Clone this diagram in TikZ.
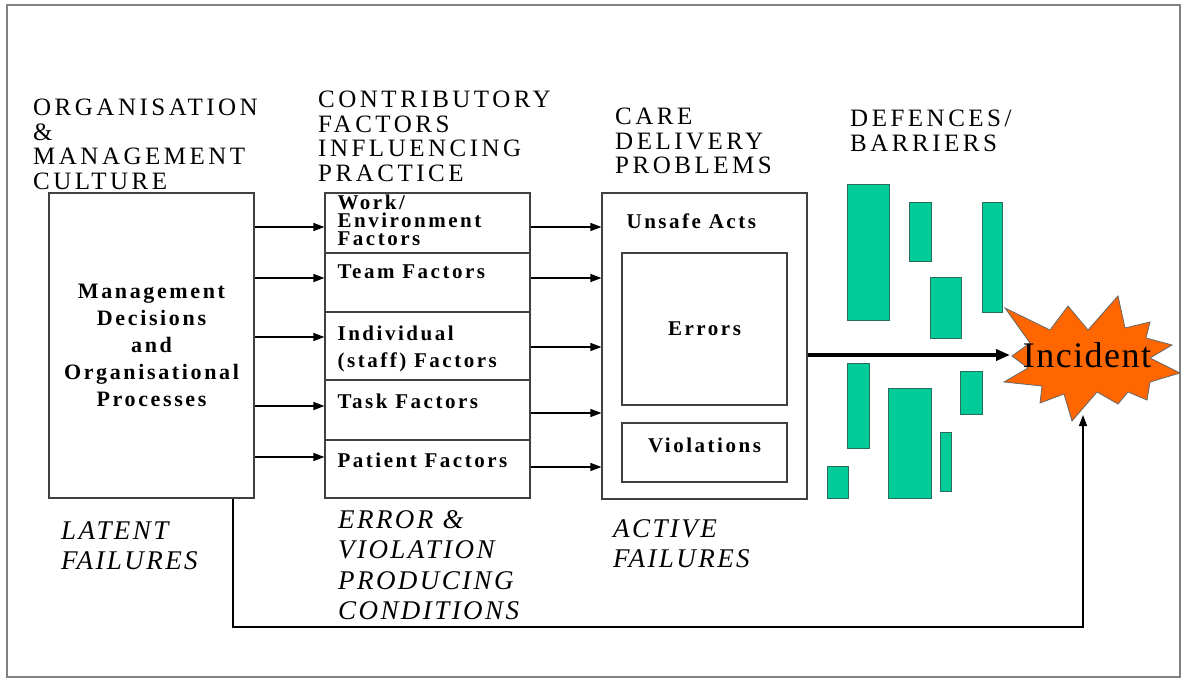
\documentclass[tikz,border=0pt]{standalone}
\usepackage{fontspec}
\setmainfont{Liberation Serif}
\newfontfamily\headfont[LetterSpace=14]{Liberation Serif}
\newfontfamily\labelfont[LetterSpace=12]{Liberation Serif}
\newfontfamily\notefont[LetterSpace=9]{Liberation Serif}
\newfontfamily\burstfont[LetterSpace=4]{Liberation Serif}
\usepackage{tikz}
\usetikzlibrary{arrows.meta, positioning}
\definecolor{barGreen}{RGB}{0,204,153}
\definecolor{barEdge}{RGB}{40,110,90}
\definecolor{burstOrange}{RGB}{255,102,0}
\definecolor{frameGrey}{RGB}{128,128,128}

\begin{document}
\begin{tikzpicture}[
    x=1pt, y=-1pt,
    heading/.style={anchor=north west, inner sep=0pt, align=left, font=\headfont\fontsize{25}{24.5}\selectfont},
    note/.style={anchor=north west, inner sep=0pt, align=left, font=\notefont\itshape\fontsize{27}{30.5}\selectfont},
    stagebox/.style={draw=black!75, line width=1.2pt, minimum width=205pt, inner sep=0pt},
    innerbox/.style={draw=black!75, line width=1.2pt, minimum width=165pt, inner sep=0pt, font=\labelfont\bfseries\fontsize{21}{27}\selectfont},
    factor/.style={inner sep=0pt, align=left, font=\labelfont\bfseries\fontsize{21}{27}\selectfont},
    bar/.style={fill=barGreen, draw=barEdge, line width=0.8pt},
    link/.style={line width=1.3pt, -{Triangle[length=11pt, width=8pt]}},
    bigarrow/.style={line width=3.5pt, -{Triangle[length=14pt, width=11pt]}}
]
    \useasboundingbox (0,0) rectangle (1181,679);
    \draw[frameGrey, line width=2pt] (7,5) rectangle (1180,677);

    % column headings
    \node[heading] (orgHead) at (33,99) {ORGANISATION\\\&\\MANAGEMENT\\CULTURE};
    \node[heading] (cfHead) at (318,91) {CONTRIBUTORY\\FACTORS\\INFLUENCING\\PRACTICE};
    \node[heading] (cdpHead) at (615,108) {CARE\\DELIVERY\\PROBLEMS};
    \node[heading] (defHead) at (850,110) {DEFENCES/\\BARRIERS};

    % organisation box
    \node[stagebox, minimum height=305pt, align=center, font=\labelfont\bfseries\fontsize{22}{27}\selectfont] (mgmt) at (151.5,345.5)
        {Management\\Decisions\\and\\Organisational\\Processes};

    % contributory factors, one row each
    \foreach \n/\yc/\h in {1/223/60, 2/282.5/59, 3/346/68, 4/410/60, 5/469/58}
        \node[stagebox, minimum height=\h pt] (row\n) at (427.5,\yc) {};
    \node[factor, font=\labelfont\bfseries\fontsize{21}{18}\selectfont, below right=2.5pt and 13pt of row1.north west] {Work/\\Environment\\Factors};
    \node[factor, below right=12pt and 13pt of row2.north west] {Team Factors};
    \node[factor, below right=14pt and 13pt of row3.north west] {Individual\\(staff) Factors};
    \node[factor, below right=14pt and 13pt of row4.north west] {Task Factors};
    \node[factor, below right=13pt and 13pt of row5.north west] {Patient Factors};

    % care delivery problems
    \node[stagebox, minimum height=306pt] (care) at (704.5,346) {};
    \node[factor, below right=21pt and 25pt of care.north west] {Unsafe Acts};
    \node[innerbox, minimum height=152pt] (errors) at (704.5,329) {Errors};
    \node[innerbox, minimum height=59pt] (violations) at (704.5,452.5) {};
    \node[factor] at ([yshift=7.5pt]violations.center) {Violations};

    % defences
    \foreach \xa/\ya/\xb/\yb in {847/184/889/320, 909/202/931/261, 930/277/961/338, 982/202/1002/312,
        847/363/869/448, 888/388/931/498, 960/371/982/414, 940/432/951/491, 827/466/848/498}
        \draw[bar] (\xa,\ya) rectangle (\xb,\yb);

    % incident burst
    \fill[burstOrange, draw=black!60, line width=0.8pt]
        (1118,296) -- (1125,328) -- (1150,322) -- (1146,338) -- (1172,345) -- (1150,358)
        -- (1180,373) -- (1150,382) -- (1147,400) -- (1128,392) -- (1118,404) -- (1097,392)
        -- (1072,421) -- (1064,394) -- (1040,403) -- (1042,386) -- (1004,382) -- (1028,368)
        -- (1012,356) -- (1030,343) -- (1005,308) -- (1050,330) -- (1068,306) -- (1088,330) -- cycle;
    \node[inner sep=0pt, font=\burstfont\fontsize{36}{36}\selectfont] (incident) at (1087,355) {Incident};
    \coordinate (hit) at (1010,355);
    \coordinate (rise) at (1083,415);
    \coordinate (loopBase) at (233,627);

    % arrows
    \foreach \y in {227,278,337,406,457}
        \draw[link] (mgmt.east |- 0,\y) -- (row1.west |- 0,\y);
    \foreach \y in {227,278,347,413,467}
        \draw[link] (row1.east |- 0,\y) -- (care.west |- 0,\y);
    \draw[bigarrow] (care.east |- hit) -- (hit);
    \draw[link] (mgmt.south -| loopBase) -- (loopBase) -| (rise);

    % failure types
    \node[note] (latent) at (61,521) {LATENT\\FAILURES};
    \node[note] (conditions) at (338,510) {ERROR \&\\VIOLATION\\PRODUCING\\CONDITIONS};
    \node[note] (active) at (613,519) {ACTIVE\\FAILURES};
\end{tikzpicture}
\end{document}
